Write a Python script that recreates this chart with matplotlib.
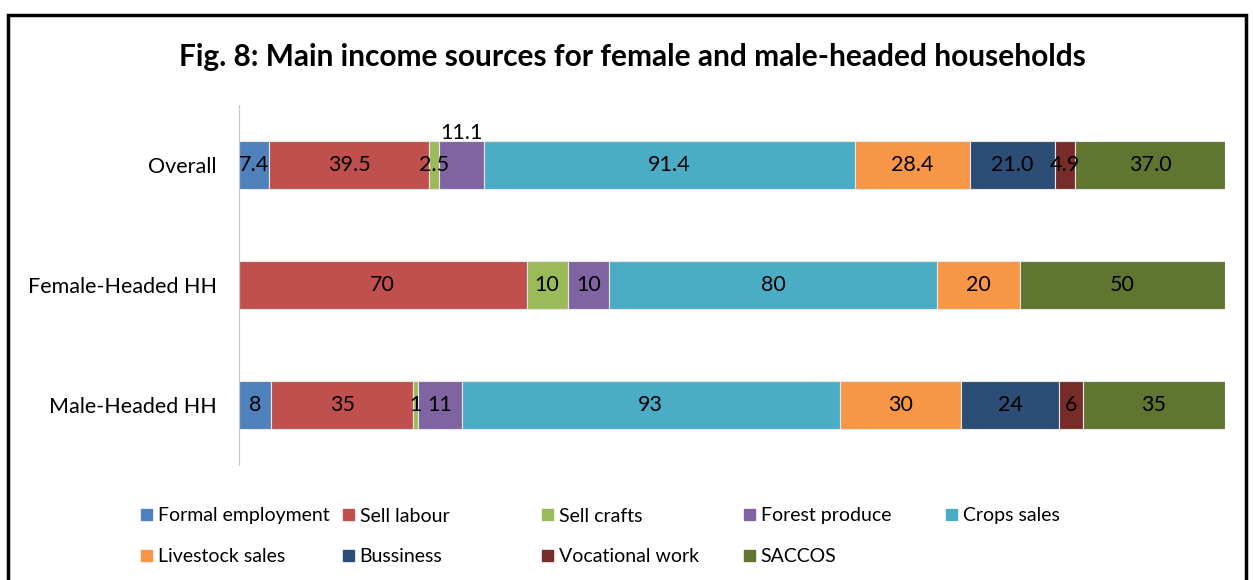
import matplotlib.pyplot as plt
from matplotlib.patches import Patch, Rectangle

plt.rcParams['font.family'] = ['Lato', 'DejaVu Sans']

groups = ['Overall', 'Female-Headed HH', 'Male-Headed HH']
sources = ['Formal employment', 'Sell labour', 'Sell crafts', 'Forest produce', 'Crops sales',
           'Livestock sales', 'Bussiness', 'Vocational work', 'SACCOS']
colors = ['#4F81BD', '#C0504D', '#9BBB59', '#8064A2', '#4BACC6',
          '#F79646', '#2C4D75', '#772C2A', '#5F7530']

overall = [7.4, 39.5, 2.5, 11.1, 91.4, 28.4, 21.0, 4.9, 37.0]
female = [0, 70, 10, 10, 80, 20, 0, 0, 50]
male = [8, 35, 1, 11, 93, 30, 24, 6, 35]
label_fmt = ['{:.1f}', '{:.0f}', '{:.0f}']

fig = plt.figure(figsize=(12.53, 5.8), dpi=100)
ax = fig.add_axes([0.1907, 0.198, 0.787, 0.621])

rows = [overall, female, male]
for r, vals in enumerate(rows):
    total = sum(vals)
    left = 0
    for i, v in enumerate(vals):
        if v == 0:
            continue
        w = v / total * 100
        ax.barh(r, w, left=left, height=0.4, color=colors[i], edgecolor='#e8e8e8', linewidth=0.8)
        txt = label_fmt[r].format(v)
        if r == 0 and sources[i] == 'Forest produce':
            ax.text(left + w / 2, r - 0.27, txt, ha='center', va='center', fontsize=15.5)
        else:
            ax.text(left + w / 2, r, txt, ha='center', va='center', fontsize=15.5)
        left += w

ax.set_xlim(0, 100)
ax.set_ylim(2.5, -0.5)
ax.set_yticks(range(len(groups)))
ax.set_yticklabels(groups, fontsize=15.5)
ax.tick_params(axis='y', length=0, pad=16)
ax.set_xticks([])
for side in ['top', 'right', 'bottom']:
    ax.spines[side].set_visible(False)
ax.spines['left'].set_color('#c8c8c8')

fig.text(0.505, 0.902, 'Fig. 8: Main income sources for female and male-headed households',
         ha='center', va='center', fontsize=21.5, fontweight='bold')

# legend laid out on a fixed grid, five per row
col_x = [141, 343, 542, 744, 946]
row_y = [516, 557]
for i, (name, c) in enumerate(zip(sources, colors)):
    row, col = divmod(i, 5)
    fig.legend(handles=[Patch(color=c)], labels=[name], loc='center left',
               bbox_to_anchor=(col_x[col] / 1253, 1 - row_y[row] / 580),
               frameon=False, fontsize=14, handlelength=0.55, handleheight=0.55,
               handletextpad=0.3, borderaxespad=0, borderpad=0)

fig.patches.append(Rectangle((8 / 1253, -0.1), 1238 / 1253, 1.1 - 15 / 580,
                             transform=fig.transFigure, fill=False, edgecolor='black', linewidth=2.5))

fig.savefig('out.png', dpi=100)
